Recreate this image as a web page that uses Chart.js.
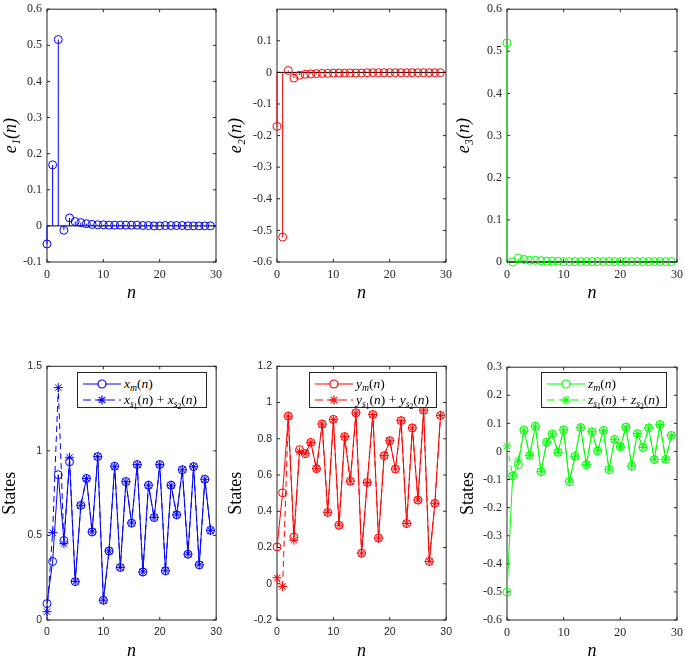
<!DOCTYPE html>
<html>
<head>
<meta charset="utf-8">
<script src="https://cdn.jsdelivr.net/npm/chart.js@4"></script>
<style>
  html, body { margin: 0; padding: 0; background: #fff; overflow: hidden; width: 685px; height: 656px; }
  .panel { position: absolute; }
  .legend { position: absolute; background: #fff; border: 1px solid #262626; box-sizing: border-box;
            font-family: 'Liberation Serif', serif; font-size: 13.5px; color: #000; }
  .legend .row { position: absolute; left: 5px; height: 16px; display: flex; align-items: center; white-space: nowrap; }
  .legend svg { margin-right: 3px; }
  .legend sub { font-size: 72%; vertical-align: -0.3em; line-height: 0; }
  .legend sub sub { font-size: 78%; vertical-align: -0.2em; }
</style>
</head>
<body>
<div id="p1" class="panel"><canvas id="c1"></canvas></div>
<div id="p2" class="panel"><canvas id="c2"></canvas></div>
<div id="p3" class="panel"><canvas id="c3"></canvas></div>
<div id="p4" class="panel"><canvas id="c4"></canvas></div>
<div id="p5" class="panel"><canvas id="c5"></canvas></div>
<div id="p6" class="panel"><canvas id="c6"></canvas></div>
<div id="l4" class="legend"></div>
<div id="l5" class="legend"></div>
<div id="l6" class="legend"></div>
<script>
        // Índices n
        const n = [0, 1, 2, 3, 4, 5, 6, 7, 8, 9, 10, 11, 12, 13, 14, 15, 16, 17, 18, 19,
                   20, 21, 22, 23, 24, 25, 26, 27, 28, 29];

        // Erros e1, e2, e3
        const e1 = [-0.05, 0.169, 0.516, -0.012, 0.022, 0.012, 0.009, 0.006, 0.004, 0.003,
                    0.003, 0.002, 0.002, 0.002, 0.002, 0.002, 0.002, 0.001, 0.001, 0.0,
                    0.0, 0.001, 0.001, 0.001, 0.001, 0.0, 0.0, 0.0, 0.0, 0.0];
        const e2 = [-0.171, -0.521, 0.006, -0.018, -0.009, -0.006, -0.005, -0.004, -0.003, -0.003,
                    -0.002, -0.002, -0.002, -0.002, -0.002, -0.002, -0.001, -0.001, -0.001, -0.001,
                    -0.001, -0.001, -0.001, -0.001, -0.001, -0.001, -0.001, -0.001, -0.001, -0.001];
        const e3 = [0.52, 0.0, 0.009, 0.006, 0.004, 0.004, 0.003, 0.002, 0.002, 0.002,
                    0.001, 0.001, 0.001, 0.001, 0.001, 0.001, 0.001, 0.001, 0.001, 0.001,
                    0.001, 0.001, 0.001, 0.001, 0.001, 0.001, 0.001, 0.001, 0.001, 0.001];

        // Estados
        const xm = [0.097, 0.346, 0.859, 0.47, 0.936, 0.227, 0.678, 0.837, 0.521, 0.966,
                    0.117, 0.408, 0.909, 0.311, 0.818, 0.573, 0.919, 0.284, 0.797, 0.606,
                    0.919, 0.291, 0.797, 0.622, 0.888, 0.389, 0.907, 0.326, 0.832, 0.53];
        const xs = [0.049, 0.517, 1.374, 0.451, 0.962, 0.227, 0.678, 0.837, 0.521, 0.966,
                    0.117, 0.408, 0.909, 0.311, 0.818, 0.573, 0.919, 0.284, 0.797, 0.606,
                    0.919, 0.291, 0.797, 0.622, 0.888, 0.389, 0.907, 0.326, 0.832, 0.53];
        const ym = [0.203, 0.502, 0.925, 0.258, 0.74, 0.718, 0.78, 0.635, 0.881, 0.394,
                    0.907, 0.323, 0.812, 0.566, 0.943, 0.169, 0.559, 0.934, 0.252, 0.707,
                    0.789, 0.633, 0.9, 0.332, 0.86, 0.462, 0.958, 0.123, 0.444, 0.929];
        const ys = [0.033, -0.015, 0.925, 0.24, 0.729, 0.718, 0.78, 0.635, 0.881, 0.394,
                    0.907, 0.323, 0.812, 0.566, 0.943, 0.169, 0.559, 0.934, 0.252, 0.707,
                    0.789, 0.633, 0.9, 0.332, 0.86, 0.462, 0.958, 0.123, 0.444, 0.929];
        const zm = [-0.501, -0.087, -0.047, 0.076, -0.014, 0.09, -0.072, 0.033, 0.062, -0.003,
                    0.077, -0.108, -0.017, 0.085, -0.047, 0.07, 0.002, 0.075, -0.065, 0.043,
                    0.017, 0.087, -0.052, 0.064, 0.014, 0.084, -0.029, 0.096, -0.028, 0.057];
        const zs = [0.02, -0.087, -0.03, 0.076, -0.014, 0.09, -0.072, 0.033, 0.062, -0.003,
                    0.077, -0.108, -0.017, 0.085, -0.047, 0.07, 0.002, 0.075, -0.065, 0.043,
                    0.017, 0.087, -0.052, 0.064, 0.014, 0.084, -0.029, 0.096, -0.028, 0.057];

        // Ticks
        const nTicks = [0, 10, 20, 30];
        const e1Ticks = [-0.1, 0, 0.1, 0.2, 0.3, 0.4, 0.5, 0.6];
        const e2Ticks = [-0.6, -0.5, -0.4, -0.3, -0.2, -0.1, 0, 0.1];
        const e3Ticks = [0, 0.1, 0.2, 0.3, 0.4, 0.5, 0.6];
        const xTicks = [0, 0.5, 1, 1.5];
        const yTicks = [-0.2, 0, 0.2, 0.4, 0.6, 0.8, 1, 1.2];
        const zTicks = [-0.6, -0.5, -0.4, -0.3, -0.2, -0.1, 0, 0.1, 0.2, 0.3];

        const AXIS = '#262626';
        const SERIF = "'Liberation Serif', serif";
        const SANS = "'Liberation Sans', Arial, sans-serif";
        const TITLE_SIZE = 18;

        function pts(ys) {
            return n.map((v, i) => ({ x: v, y: ys[i] }));
        }

        // moldura, ticks para dentro e hastes do stem
        const framePlugin = {
            id: 'frame',
            beforeDatasetsDraw(chart, args, opts) {
                const { ctx, chartArea: a } = chart;
                const x = chart.scales.x, y = chart.scales.y;
                ctx.save();
                ctx.strokeStyle = AXIS;
                ctx.lineWidth = 1;
                ctx.strokeRect(a.left, a.top, a.right - a.left, a.bottom - a.top);
                const L = 3;
                ctx.beginPath();
                x.ticks.forEach(t => {
                    const px = x.getPixelForValue(t.value);
                    ctx.moveTo(px, a.bottom); ctx.lineTo(px, a.bottom - L);
                    ctx.moveTo(px, a.top); ctx.lineTo(px, a.top + L);
                });
                y.ticks.forEach(t => {
                    const py = y.getPixelForValue(t.value);
                    ctx.moveTo(a.left, py); ctx.lineTo(a.left + L, py);
                    ctx.moveTo(a.right, py); ctx.lineTo(a.right - L, py);
                });
                ctx.stroke();
                if (opts.stem) {
                    const y0 = y.getPixelForValue(0);
                    ctx.strokeStyle = opts.stem;
                    ctx.beginPath();
                    chart.data.datasets[0].data.forEach(p => {
                        const px = x.getPixelForValue(p.x);
                        ctx.moveTo(px, y0);
                        ctx.lineTo(px, y.getPixelForValue(p.y));
                    });
                    ctx.stroke();
                    ctx.strokeStyle = '#000';
                    ctx.beginPath();
                    ctx.moveTo(x.getPixelForValue(x.min), y0);
                    ctx.lineTo(x.getPixelForValue(x.max), y0);
                    ctx.stroke();
                }
                ctx.restore();
            }
        };

        function makePanel(id, box, cfg) {
            const lh = TITLE_SIZE * 1.2;
            const divLeft = Math.round(box.titleX - lh / 2);
            const divTop = box.top - 8;
            const div = document.getElementById('p' + id);
            div.style.left = divLeft + 'px';
            div.style.top = divTop + 'px';
            div.style.width = (box.right + 10 - divLeft) + 'px';
            div.style.height = (box.bottom + 42 - divTop) + 'px';
            const yW = box.left - divLeft;
            const tickFont = { family: cfg.tickFamily, size: cfg.tickSize };

            new Chart(document.getElementById('c' + id), {
                type: 'scatter',
                data: { datasets: cfg.datasets },
                options: {
                    responsive: true,
                    maintainAspectRatio: false,
                    animation: false,
                    layout: { padding: { left: 0, top: 8, right: 10, bottom: 0 } },
                    scales: {
                        x: {
                            type: 'linear', min: 0, max: 30,
                            grid: { display: false, drawTicks: false },
                            border: { display: false },
                            afterBuildTicks: s => { s.ticks = nTicks.map(v => ({ value: v })); },
                            afterFit: s => { s.height = 42; },
                            ticks: { font: tickFont, color: AXIS, padding: 6, maxRotation: 0,
                                     callback: v => String(v) },
                            title: { display: true, text: 'n', color: '#000', padding: 0,
                                     font: { family: SERIF, size: TITLE_SIZE, style: 'italic' } }
                        },
                        y: {
                            type: 'linear', min: cfg.yMin, max: cfg.yMax,
                            grid: { display: false, drawTicks: false },
                            border: { display: false },
                            afterBuildTicks: s => { s.ticks = cfg.yTicks.map(v => ({ value: v })); },
                            afterFit: s => { s.width = yW; },
                            ticks: { font: tickFont, color: AXIS, padding: 5,
                                     callback: v => String(v) },
                            title: { display: true, text: cfg.yTitle, color: '#000', padding: 0,
                                     font: { family: SERIF, size: TITLE_SIZE, style: cfg.yItalic ? 'italic' : 'normal' } }
                        }
                    },
                    plugins: {
                        legend: { display: false },
                        tooltip: { enabled: false },
                        frame: { stem: cfg.stem }
                    }
                },
                plugins: [framePlugin]
            });
        }

        function stemSet(vals, color) {
            return [{
                data: pts(vals),
                showLine: false,
                pointStyle: 'circle',
                pointRadius: 4,
                pointBorderWidth: 1,
                pointBorderColor: color,
                pointBackgroundColor: 'rgba(0,0,0,0)',
                clip: false
            }];
        }

        function stateSets(mVals, sVals, color) {
            return [{
                data: pts(mVals),
                showLine: true,
                borderColor: color,
                borderWidth: 1,
                tension: 0,
                pointStyle: 'circle',
                pointRadius: 4,
                pointBorderWidth: 1,
                pointBorderColor: color,
                pointBackgroundColor: 'rgba(0,0,0,0)',
                clip: false
            }, {
                data: pts(sVals),
                showLine: true,
                borderColor: color,
                borderWidth: 1,
                borderDash: [6, 4],
                tension: 0,
                pointStyle: 'star',
                pointRadius: 4.5,
                pointBorderWidth: 1,
                pointBorderColor: color,
                pointBackgroundColor: 'rgba(0,0,0,0)',
                clip: false
            }];
        }

        makePanel(1, { left: 47, top: 5, right: 218, bottom: 262, titleX: 11 }, {
            datasets: stemSet(e1, '#0000ff'), stem: '#0000ff',
            yMin: -0.1, yMax: 0.6, yTicks: e1Ticks, yTitle: 'e\u2081(n)', yItalic: true,
            tickFamily: SERIF, tickSize: 12
        });
        makePanel(2, { left: 277, top: 5, right: 448, bottom: 262, titleX: 236 }, {
            datasets: stemSet(e2, '#ff0000'), stem: '#ff0000',
            yMin: -0.6, yMax: 0.2, yTicks: e2Ticks, yTitle: 'e\u2082(n)', yItalic: true,
            tickFamily: SERIF, tickSize: 12
        });
        makePanel(3, { left: 507, top: 5, right: 679, bottom: 262, titleX: 464 }, {
            datasets: stemSet(e3, '#00ff00'), stem: '#00ff00',
            yMin: 0, yMax: 0.6, yTicks: e3Ticks, yTitle: 'e\u2083(n)', yItalic: true,
            tickFamily: SERIF, tickSize: 12
        });
        makePanel(4, { left: 47, top: 363, right: 218, bottom: 620, titleX: 10 }, {
            datasets: stateSets(xm, xs, '#0000ff'),
            yMin: 0, yMax: 1.5, yTicks: xTicks, yTitle: 'States', yItalic: false,
            tickFamily: SANS, tickSize: 10.5
        });
        makePanel(5, { left: 277, top: 363, right: 448, bottom: 620, titleX: 236 }, {
            datasets: stateSets(ym, ys, '#ff0000'),
            yMin: -0.2, yMax: 1.2, yTicks: yTicks, yTitle: 'States', yItalic: false,
            tickFamily: SANS, tickSize: 10.5
        });
        makePanel(6, { left: 507, top: 363, right: 679, bottom: 620, titleX: 468 }, {
            datasets: stateSets(zm, zs, '#00ff00'),
            yMin: -0.6, yMax: 0.3, yTicks: zTicks, yTitle: 'States', yItalic: false,
            tickFamily: SERIF, tickSize: 12
        });

        // Legendas (texto com subscritos)
        function sample(color, dashed) {
            const line = dashed
                ? `<line x1="0" y1="6" x2="38" y2="6" stroke="${color}" stroke-width="1.2" stroke-dasharray="8,4"/>`
                : `<line x1="0" y1="6" x2="38" y2="6" stroke="${color}" stroke-width="1.2"/>`;
            const mark = dashed
                ? `<g stroke="${color}" stroke-width="1.2"><line x1="14.5" y1="6" x2="23.5" y2="6"/><line x1="19" y1="1.5" x2="19" y2="10.5"/><line x1="15.8" y1="2.8" x2="22.2" y2="9.2"/><line x1="15.8" y1="9.2" x2="22.2" y2="2.8"/></g>`
                : `<circle cx="19" cy="6" r="4" fill="#fff" stroke="${color}" stroke-width="1.2"/>`;
            return `<svg width="38" height="12">${line}${mark}</svg>`;
        }
        function makeLegend(id, pos, v, color) {
            const el = document.getElementById(id);
            el.style.left = pos.left + 'px';
            el.style.top = pos.top + 'px';
            el.style.width = pos.width + 'px';
            el.style.height = '36px';
            el.innerHTML =
                `<div class="row" style="top:3px">${sample(color, false)}<span><i>${v}</i><sub><i>m</i></sub>(<i>n</i>)</span></div>` +
                `<div class="row" style="top:19px">${sample(color, true)}<span><i>${v}</i><sub><i>s</i><sub>1</sub></sub>(<i>n</i>) + <i>${v}</i><sub><i>s</i><sub>2</sub></sub>(<i>n</i>)</span></div>`;
        }
        makeLegend('l4', { left: 77, top: 372, width: 130 }, 'x', '#0000ff');
        makeLegend('l5', { left: 309, top: 372, width: 128 }, 'y', '#ff0000');
        makeLegend('l6', { left: 541, top: 372, width: 126 }, 'z', '#00ff00');
</script>
</body>
</html>
